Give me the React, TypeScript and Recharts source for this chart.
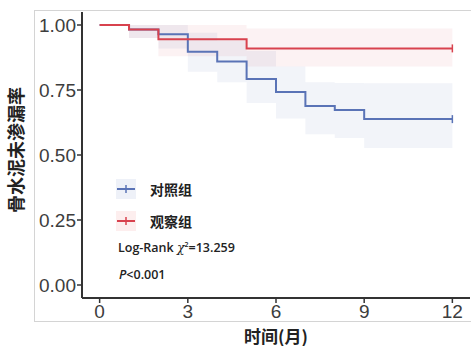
import React from "react";
import {
  ComposedChart,
  Area,
  Line,
  XAxis,
  YAxis,
} from "recharts";

// follow-up months where either curve steps
const months = [0, 1, 2, 3, 4, 5, 6, 7, 8, 9, 12];

// 对照组 (control)
const controlSurv = [1, 0.983, 0.964, 0.897, 0.86, 0.792, 0.742, 0.688, 0.673, 0.638, 0.638];
const controlLow = [1, 0.95, 0.91, 0.82, 0.78, 0.7, 0.64, 0.58, 0.565, 0.527, 0.527];
const controlHigh = [1, 1, 1, 0.97, 0.94, 0.9, 0.84, 0.78, 0.777, 0.776, 0.776];

// 观察组 (observation)
const obsSurv = [1, 0.983, 0.945, 0.945, 0.945, 0.91, 0.91, 0.91, 0.91, 0.91, 0.91];
const obsLow = [1, 0.95, 0.88, 0.88, 0.88, 0.84, 0.84, 0.84, 0.84, 0.84, 0.84];
const obsHigh = [1, 1, 1, 1, 1, 0.987, 0.987, 0.987, 0.987, 0.987, 0.987];

const xTicks = [0, 3, 6, 9, 12];
const yTicks = [0, 0.25, 0.5, 0.75, 1];

const BLUE = "#5a73b6";
const RED = "#d8424e";

const data = months.map((t, i) => ({
  time: t,
  control: controlSurv[i],
  controlBand: [controlLow[i], controlHigh[i]],
  obs: obsSurv[i],
  obsBand: [obsLow[i], obsHigh[i]],
}));

// censor mark only on the last point
const censorDot = (color: string) => (props: any) => {
  const { cx, cy, index } = props;
  if (index !== data.length - 1) return <g key={`d${index}`} />;
  return (
    <g key={`d${index}`}>
      <line x1={cx} x2={cx} y1={cy - 4} y2={cy + 4} stroke={color} strokeWidth={1.5} />
    </g>
  );
};

const tickFont = {
  fontFamily: "'Liberation Sans', Arial, sans-serif",
  fontSize: 19,
  fill: "#3d3d3d",
};

const cjkBold = {
  fontFamily: "'Noto Sans CJK SC', sans-serif",
  fontWeight: 700,
  color: "#222",
};

const statFont = {
  fontFamily: "'Open Sans', sans-serif",
  fontWeight: 600,
  fontSize: 12.5,
  color: "#222",
  whiteSpace: "nowrap" as const,
};

function LegendKey({ color, bg }: { color: string; bg: string }) {
  return (
    <svg width={20} height={20} style={{ display: "block" }}>
      <rect x={0} y={0} width={20} height={20} fill={bg} />
      <line x1={1} x2={19} y1={10} y2={10} stroke={color} strokeWidth={2} />
      <line x1={10} x2={10} y1={6} y2={14} stroke={color} strokeWidth={1.5} />
    </svg>
  );
}

export default function App() {
  return (
    <div
      style={{
        position: "fixed",
        left: 0,
        top: 0,
        width: 471,
        height: 346,
        background: "#fff",
        overflow: "hidden",
      }}
    >
      {/* frame around the figure */}
      <div
        style={{
          position: "absolute",
          left: 34,
          top: 10,
          width: 460,
          height: 310,
          border: "1px solid #d4d4d4",
        }}
      />
      <div style={{ position: "absolute", left: 0, top: 0 }}>
        <ComposedChart
          width={471}
          height={346}
          data={data}
          margin={{ top: 12, right: 1, left: 0, bottom: 0 }}
        >
          <XAxis
            dataKey="time"
            type="number"
            domain={[-0.6, 12.6]}
            ticks={xTicks}
            height={48}
            axisLine={{ stroke: "#333", strokeWidth: 2 }}
            tickLine={{ stroke: "#333", strokeWidth: 1.5 }}
            tickSize={5}
            tickMargin={2}
            tick={tickFont}
          />
          <YAxis
            type="number"
            domain={[-0.05, 1.05]}
            ticks={yTicks}
            width={82}
            allowDataOverflow
            tickFormatter={(v: number) => v.toFixed(2)}
            axisLine={{ stroke: "#333", strokeWidth: 2 }}
            tickLine={{ stroke: "#333", strokeWidth: 1.5 }}
            tickSize={5}
            tickMargin={1}
            tick={tickFont}
          />
          <Area
            type="stepAfter"
            dataKey="controlBand"
            stroke="none"
            fill={BLUE}
            fillOpacity={0.08}
            isAnimationActive={false}
          />
          <Area
            type="stepAfter"
            dataKey="obsBand"
            stroke="none"
            fill={RED}
            fillOpacity={0.07}
            isAnimationActive={false}
          />
          <Line
            type="stepAfter"
            dataKey="control"
            stroke={BLUE}
            strokeWidth={2}
            dot={censorDot(BLUE)}
            activeDot={false}
            isAnimationActive={false}
          />
          <Line
            type="stepAfter"
            dataKey="obs"
            stroke={RED}
            strokeWidth={2}
            dot={censorDot(RED)}
            activeDot={false}
            isAnimationActive={false}
          />
        </ComposedChart>
      </div>

      {/* y axis title */}
      <div
        style={{
          ...cjkBold,
          position: "absolute",
          left: 15,
          top: 150,
          fontSize: 18,
          whiteSpace: "nowrap",
          transform: "translate(-50%, -50%) rotate(-90deg)",
        }}
      >
        骨水泥未渗漏率
      </div>
      {/* x axis title */}
      <div
        style={{
          ...cjkBold,
          position: "absolute",
          left: 276,
          top: 335,
          fontSize: 17,
          whiteSpace: "nowrap",
          transform: "translate(-50%, -50%)",
        }}
      >
        时间(月)
      </div>

      {/* legend */}
      <div style={{ position: "absolute", left: 116, top: 179 }}>
        <LegendKey color={BLUE} bg="#eef1f8" />
      </div>
      <div style={{ ...cjkBold, position: "absolute", left: 150, top: 179, fontSize: 14, lineHeight: "20px" }}>
        对照组
      </div>
      <div style={{ position: "absolute", left: 116, top: 211 }}>
        <LegendKey color={RED} bg="#fdeeee" />
      </div>
      <div style={{ ...cjkBold, position: "absolute", left: 150, top: 211, fontSize: 14, lineHeight: "20px" }}>
        观察组
      </div>

      {/* statistics */}
      <div style={{ ...statFont, position: "absolute", left: 118, top: 239 }}>
        Log-Rank{" "}
        <span style={{ fontFamily: "'DejaVu Serif', serif", fontStyle: "italic", fontWeight: 400 }}>χ</span>
        <sup style={{ fontSize: 7 }}>2</sup>=13.259
      </div>
      <div style={{ ...statFont, position: "absolute", left: 119, top: 266 }}>
        <i>P</i>&lt;0.001
      </div>
    </div>
  );
}
